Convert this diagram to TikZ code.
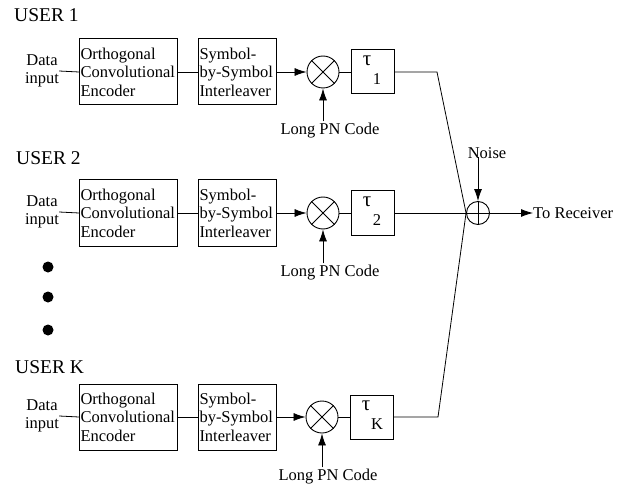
\documentclass[tikz,border=0pt]{standalone}
\usepackage{fontspec}
\setmainfont{Liberation Serif}
\usetikzlibrary{arrows.meta,calc}
\tikzset{
  blk/.style={draw, line width=1pt, align=left, inner xsep=1pt, inner ysep=0pt, minimum height=66pt, anchor=west},
  enc/.style={blk, text width=96pt},
  ilv/.style={blk, text width=76pt},
  mult/.style={draw, circle, line width=0.9pt, minimum size=32pt, inner sep=0pt},
  sumc/.style={draw, circle, line width=0.9pt, minimum size=23pt, inner sep=0pt},
  taubox/.style={draw, line width=1pt, minimum width=43pt, minimum height=44pt, inner sep=0pt},
  lbl/.style={inner sep=0pt},
  tau/.style={inner sep=0pt, font=\fontsize{21}{24}\selectfont},
  user/.style={inner sep=0pt, anchor=west, font=\fontsize{19.5}{22}\selectfont},
  ln/.style={line width=0.8pt},
  arr/.style={line width=0.8pt, -{Latex[length=12pt,width=8pt]}},
  dotn/.style={circle, fill, inner sep=0pt, minimum size=11pt},
}
\begin{document}
\begin{tikzpicture}[x=1pt,y=-1pt, font=\fontsize{16.5}{18.5}\selectfont]
\useasboundingbox (0,0) rectangle (626,489);
% users
\node[user] (u1) at (14,15) {USER 1};
\node[user] (u2) at (16,158) {USER 2};
\node[user] (uk) at (15,367) {USER K};
% row 1
\node[lbl, align=center] (d1) at (42,71) {Data\\input};
\node[enc] (e1) at (79,72) {Orthogonal\\Convolutional\\Encoder};
\node[ilv] (i1) at (198,72) {Symbol-\\by-Symbol\\Interleaver};
\node[mult] (m1) at (323,72) {};
\node[taubox] (t1) at (372.5,72) {};
\node[tau] (ta1) at (367,61) {τ};
\node[lbl] (tb1) at (377,79) {1};
\node[lbl] (p1) at (330,131) {Long PN Code};
% row 2
\node[lbl, align=center] (d2) at (42,212) {Data\\input};
\node[enc] (e2) at (79,213) {Orthogonal\\Convolutional\\Encoder};
\node[ilv] (i2) at (198,213) {Symbol-\\by-Symbol\\Interleaver};
\node[mult] (m2) at (323,213) {};
\node[taubox] (t2) at (372.5,213) {};
\node[tau] (ta2) at (367,202) {τ};
\node[lbl] (tb2) at (377,220) {2};
\node[lbl] (p2) at (330,273) {Long PN Code};
% row K
\node[lbl, align=center] (dk) at (42,416) {Data\\input};
\node[enc] (ek) at (79,417) {Orthogonal\\Convolutional\\Encoder};
\node[ilv] (ik) at (198,417) {Symbol-\\by-Symbol\\Interleaver};
\node[mult] (mk) at (322,417) {};
\node[taubox] (tk) at (371.5,417) {};
\node[tau] (tak) at (366,406) {τ};
\node[lbl] (tbk) at (377,424) {K};
\node[lbl] (pk) at (328,477) {Long PN Code};
% dots
\node[dotn] (o1) at (48,267) {};
\node[dotn] (o2) at (48,297) {};
\node[dotn] (o3) at (48,330) {};
% summation
\node[sumc] (s) at (478,213) {};
\node[lbl] (nz) at (487,153) {Noise};
\node[lbl, anchor=west] (rx) at (533,213) {To Receiver};
\coordinate (c1) at (437,72);
\coordinate (ck) at (438,417);
% crosses
\foreach \m in {m1,m2,mk}{
  \draw[ln] (\m.north east) -- (\m.south west);
  \draw[ln] (\m.north west) -- (\m.south east);
}
\draw[ln] (s.north) -- (s.south);
\draw[ln] (s.west) -- (s.east);
% connectors
\foreach \r in {1,2,k}{
  \draw[ln] (d\r.east) -- (e\r.west);
  \draw[ln] (e\r.east) -- (i\r.west);
  \draw[arr] (i\r.east) -- (m\r.west);
  \draw[ln] (m\r.east) -- (t\r.west);
  \draw[arr] ([yshift=2pt]p\r.north -| m\r) -- (m\r.south);
}
\draw[ln] (t1.east) -- (c1) -- (s.west);
\draw[ln] (t2.east) -- (s.west);
\draw[ln] (tk.east) -- (ck) -- (s.west);
\draw[arr] ([yshift=2pt]nz.south -| s) -- (s.north);
\draw[arr] (s.east) -- (rx.west);
\end{tikzpicture}
\end{document}
